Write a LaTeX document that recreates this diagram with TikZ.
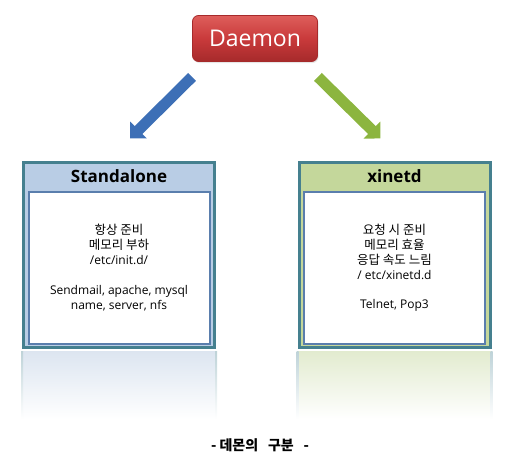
\documentclass[tikz,border=0pt]{standalone}
\usepackage{xcolor}
\usepackage{fontspec}
\setmainfont{Open Sans}
\newfontfamily\kor{Noto Sans CJK KR}
\usetikzlibrary{arrows.meta,positioning,calc,shadows}

\definecolor{daemonred}{HTML}{C93A3B}
\definecolor{daemonlight}{HTML}{DE5E5B}
\definecolor{daemondark}{HTML}{A62A2B}
\definecolor{arrowblue}{HTML}{3D6FB6}
\definecolor{arrowgreen}{HTML}{8CB53F}
\definecolor{frameteal}{HTML}{45808F}
\definecolor{innerblue}{HTML}{5A7EAD}
\definecolor{headblue}{HTML}{B9CDE5}
\definecolor{headgreen}{HTML}{C4D79B}
\definecolor{reflblue}{HTML}{DCE5F0}
\definecolor{reflgreen}{HTML}{E2EBCF}

\newcommand{\kline}[1]{{\kor\fontsize{12.5}{15}\selectfont #1}}

\begin{document}
\begin{tikzpicture}[
    x=1pt, y=-1pt,
    >={Triangle[width=23pt,length=12pt]},
    daemonbox/.style={rounded corners=6pt, draw=daemondark, line width=0.8pt,
        top color=daemonlight, bottom color=daemondark, middle color=daemonred,
        minimum width=125pt, minimum height=46pt, text=white,
        font=\fontsize{23}{27}\selectfont,
        drop shadow={opacity=0.2, shadow xshift=1pt, shadow yshift=-1.5pt}},
    outerbox/.style={draw=frameteal, line width=3pt, minimum width=191pt, minimum height=185pt},
    innerbox/.style={draw=innerblue, line width=2pt, fill=white, minimum width=181pt, minimum height=152pt},
    boxtitle/.style={font=\bfseries\fontsize{17}{20}\selectfont},
    boxtext/.style={align=center, font=\fontsize{12}{15}\selectfont},
    bigarrow/.style={->, line width=11pt},
    caption/.style={font=\kor\bfseries\fontsize{14}{16}\selectfont}
]
    \useasboundingbox (0,0) rectangle (514,471);

    % Daemon on top, the two kinds below
    \node[daemonbox] (daemon) at (255,38.5) {Daemon};
    \node[outerbox, fill=headblue] (standalone) at (119,255) {};
    \node[outerbox, fill=headgreen] (xinetd) at (394.5,255) {};

    % Reflections under the boxes
    \shade[top color=reflblue, bottom color=white]
        ($(standalone.south west)+(0,2)$) rectangle ($(standalone.south east)+(0,70)$);
    \shade[top color=reflgreen, bottom color=white]
        ($(xinetd.south west)+(0,2)$) rectangle ($(xinetd.south east)+(0,70)$);
    \foreach \n/\s in {standalone/west, standalone/east, xinetd/west, xinetd/east}
        \shade[top color=frameteal!35, bottom color=white]
            ($(\n.south \s)+(-1,2)$) rectangle ($(\n.south \s)+(1,70)$);

    % Titles and contents
    \node[boxtitle] (stdtitle) at ($(standalone.north)+(0,15.5)$) {Standalone};
    \node[boxtitle] (xintitle) at ($(xinetd.north)+(0,15.5)$) {xinetd};
    \node[innerbox] (stdinner) at ($(standalone.center)+(0,12.5)$) {};
    \node[innerbox] (xininner) at ($(xinetd.center)+(0,12.5)$) {};

    \node[boxtext] (stdtext) at (stdinner.center) {%
        \kline{항상 준비}\\
        \kline{메모리 부하}\\
        /etc/init.d/\\[15pt]
        Sendmail, apache, mysql\\
        name, server, nfs};
    \node[boxtext] (xintext) at (xininner.center) {%
        \kline{요청 시 준비}\\
        \kline{메모리 효율}\\
        \kline{응답 속도 느림}\\
        / etc/xinetd.d\\[14pt]
        Telnet, Pop3};

    % Arrows - free ends next to the nodes
    \coordinate (bluetail) at ($(daemon.south west)+(0,15)$);
    \coordinate (bluetip) at ($(standalone.north)+(11,-22.5)$);
    \coordinate (greentail) at ($(daemon.south east)+(0,15)$);
    \coordinate (greentip) at ($(xinetd.north)+(-14,-22.5)$);
    \draw[bigarrow, arrowblue] (bluetail) -- (bluetip);
    \draw[bigarrow, arrowgreen] (greentail) -- (greentip);

    \node[caption] (caption) at (260,445) {- 데몬의\hspace{0.7em}구분\hspace{0.7em}-};
\end{tikzpicture}
\end{document}
